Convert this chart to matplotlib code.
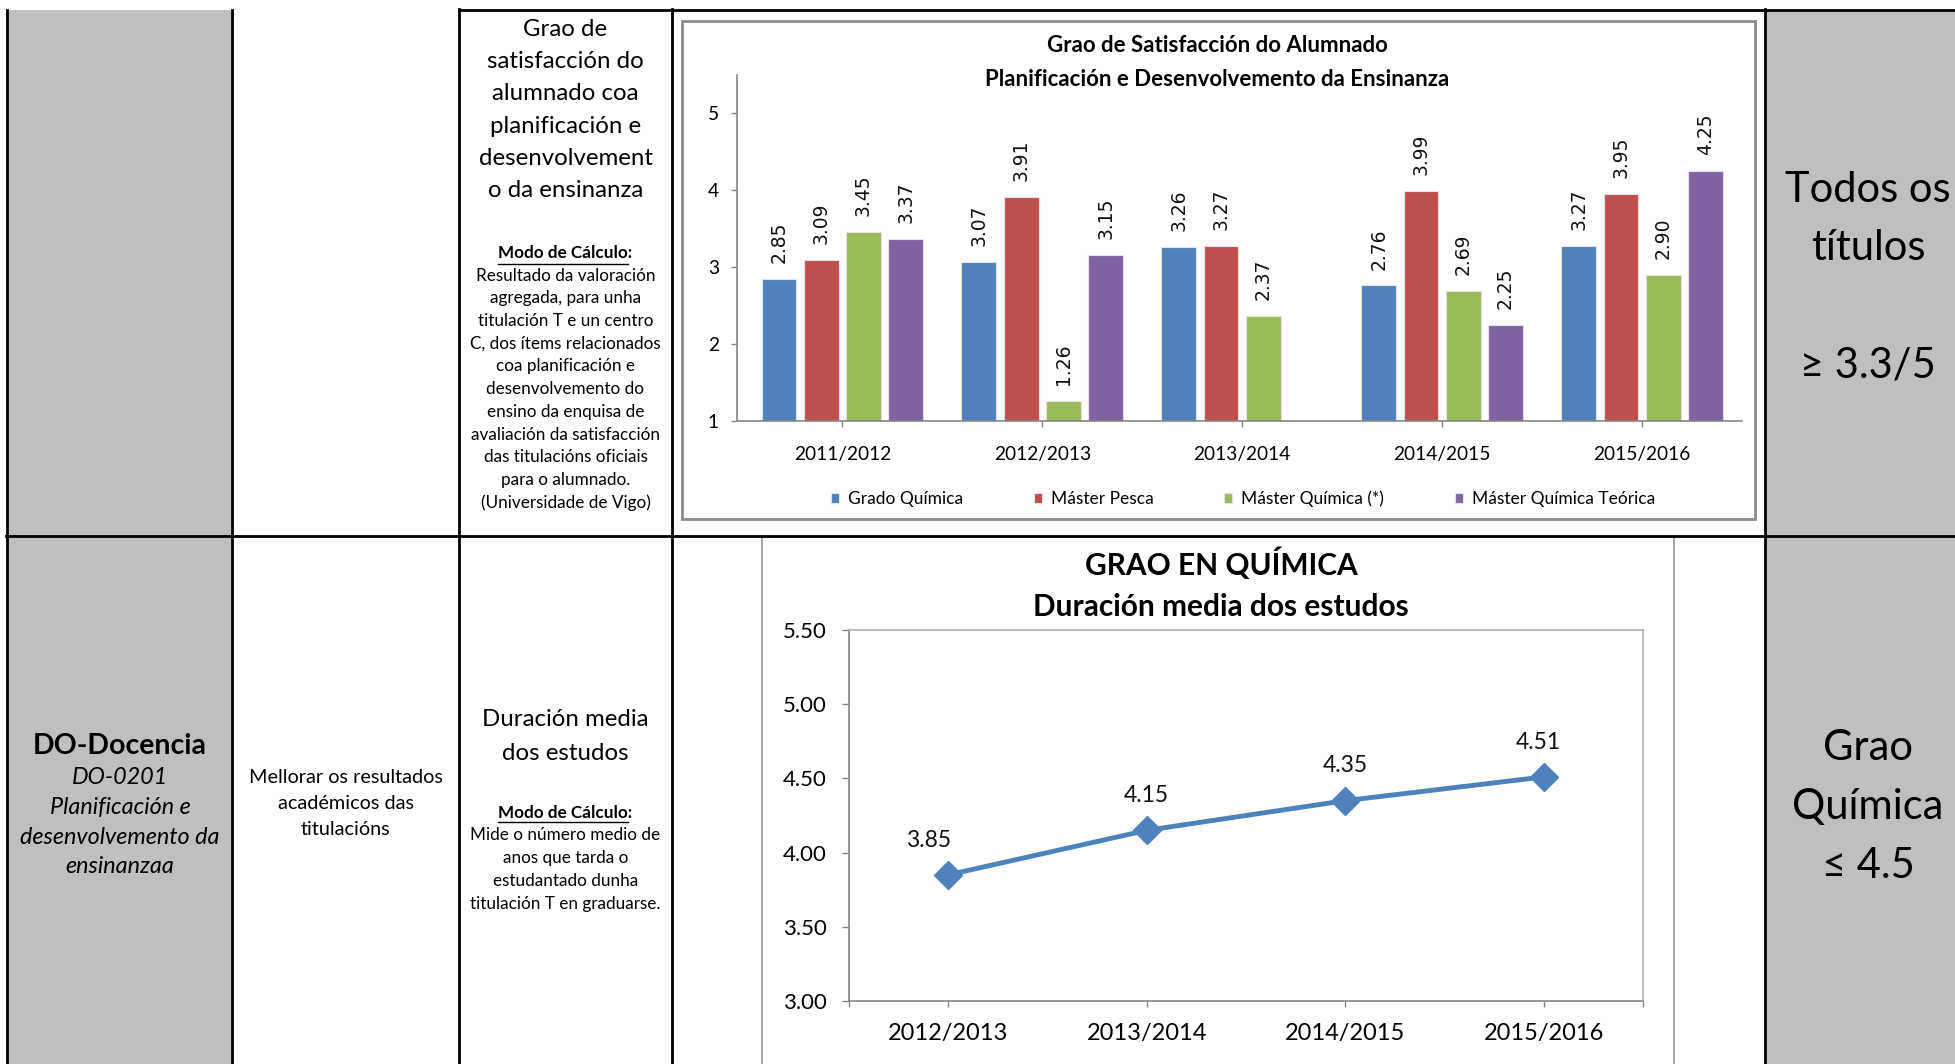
import numpy as np
import matplotlib
matplotlib.use('Agg')
import matplotlib.pyplot as plt
from matplotlib.patches import Rectangle
from matplotlib.lines import Line2D

# ---------------- data ----------------
bar_years = ['2011/2012', '2012/2013', '2013/2014', '2014/2015', '2015/2016']
grado_quimica = [2.85, 3.07, 3.26, 2.76, 3.27]
master_pesca = [3.09, 3.91, 3.27, 3.99, 3.95]
master_quimica = [3.45, 1.26, 2.37, 2.69, 2.90]
master_quimica_teorica = [3.37, 3.15, np.nan, 2.25, 4.25]
series_names = ['Grado Química', 'Máster Pesca', 'Máster Química (*)', 'Máster Química Teórica']
series_colors = ['#4F81BD', '#C0504D', '#9BBB59', '#8064A2']
bar_yticks = [1, 2, 3, 4, 5]
bar_title = ['Grao de Satisfacción do Alumnado', 'Planificación e Desenvolvemento da Ensinanza']

line_years = ['2012/2013', '2013/2014', '2014/2015', '2015/2016']
duracion_media = [3.85, 4.15, 4.35, 4.51]
line_yticks = [3.00, 3.50, 4.00, 4.50, 5.00, 5.50]
line_title = ['GRAO EN QUÍMICA', 'Duración media dos estudos']

r1_indicator = ['Grao de', 'satisfacción do', 'alumnado coa', 'planificación e',
                'desenvolvement', 'o da ensinanza']
r1_calc = ['Resultado da valoración', 'agregada, para unha', 'titulación T e un centro',
           'C, dos ítems relacionados', 'coa planificación e', 'desenvolvemento do',
           'ensino da enquisa de', 'avaliación da satisfacción', 'das titulacións oficiais',
           'para o alumnado.', '(Universidade de Vigo)']
r1_target = ['Todos os', 'títulos', '', '≥ 3.3/5']
r2_area_bold = 'DO-Docencia'
r2_area_italic = ['DO-0201', 'Planificación e', 'desenvolvemento da', 'ensinanzaa']
r2_objective = ['Mellorar os resultados', 'académicos das', 'titulacións']
r2_indicator = ['Duración media', 'dos estudos']
r2_calc = ['Mide o número medio de', 'anos que tarda o', 'estudantado dunha',
           'titulación T en graduarse.']
r2_target = ['Grao', 'Química', '≤ 4.5']
calc_heading = 'Modo de Cálculo'

# ---------------- figure ----------------
W, H = 1955, 1064
plt.rcParams['font.family'] = ['Lato', 'DejaVu Sans']
fig = plt.figure(figsize=(W / 100, H / 100), dpi=100)
fig.patch.set_facecolor('white')


def fx(x):
    return x / W


def fy(y):
    return 1 - y / H


def rect(x0, y0, x1, y1, **kw):
    r = Rectangle((fx(x0), fy(y1)), fx(x1) - fx(x0), fy(y0) - fy(y1),
                  transform=fig.transFigure, **kw)
    fig.add_artist(r)
    return r


def hline(x0, x1, y, **kw):
    fig.add_artist(Line2D([fx(x0), fx(x1)], [fy(y), fy(y)], transform=fig.transFigure, **kw))


def vline(x, y0, y1, **kw):
    fig.add_artist(Line2D([fx(x), fx(x)], [fy(y0), fy(y1)], transform=fig.transFigure, **kw))


def ftext(x, y, s, size, weight='normal', style='normal', ha='center', va='center_baseline'):
    return fig.text(fx(x), fy(y), s, fontsize=size, fontweight=weight, fontstyle=style,
                    ha=ha, va=va, family=['Lato', 'DejaVu Sans'], zorder=4, color='black')


GRAY = '#bfbfbf'
# gray cells
rect(7, 10, 232, H + 5, facecolor=GRAY, edgecolor='none', zorder=-3)
rect(1765, 10, W + 5, H + 5, facecolor=GRAY, edgecolor='none', zorder=-3)

# chart boxes
rect(682, 21, 1755, 519, facecolor='white', edgecolor='#8c8c8c', lw=2.0, zorder=-2)
rect(762, 537, 1674, H + 10, facecolor='white', edgecolor='#a6a6a6', lw=1.5, zorder=-2)

# table grid
LW = 2.0
for xv in [7, 232]:
    vline(xv, 10, H + 5, color='black', lw=LW, zorder=6)
for xv in [459, 672, 1765]:
    vline(xv, 9, H + 5, color='black', lw=LW, zorder=6)
hline(459, W + 5, 10, color='black', lw=LW, zorder=6)
hline(6, W + 5, 536, color='black', lw=LW, zorder=6)

# ---------------- bar chart ----------------
axb = fig.add_axes([fx(737), fy(421), fx(1742) - fx(737), fy(74.5) - fy(421)])
axb.set_facecolor('none')
xb = np.arange(len(bar_years))
slot, bw = 0.2114, 0.174
all_series = [grado_quimica, master_pesca, master_quimica, master_quimica_teorica]
handles = []
for i, (vals, col, name) in enumerate(zip(all_series, series_colors, series_names)):
    pos = xb + (i - 1.5) * slot
    bars = axb.bar(pos, vals, width=bw, color=col, edgecolor='#e4e4e4', lw=0.8,
                   zorder=2, label=name)
    handles.append(bars)
    for p, v in zip(pos, vals):
        if np.isnan(v):
            continue
        axb.annotate(f'{v:.2f}', (p, v), xytext=(0, 11.5), textcoords='offset points',
                     rotation=90, ha='center', va='bottom', fontsize=13.5,
                     family='DejaVu Sans', color='#111111')
axb.set_xlim(-0.527, 4.5)
axb.set_ylim(1, 5.5)
axb.set_yticks(bar_yticks)
axb.set_yticklabels([str(t) for t in bar_yticks])
axb.set_xticks(xb)
axb.set_xticklabels(bar_years)
for s in ['top', 'right']:
    axb.spines[s].set_visible(False)
for s in ['left', 'bottom']:
    axb.spines[s].set_color('#868686')
    axb.spines[s].set_linewidth(1.2)
axb.tick_params(axis='x', length=4, width=1, color='#868686', pad=14, labelsize=13.8)
axb.tick_params(axis='y', length=4, width=1, color='#868686', pad=9, labelsize=13.8)

ftext(1217, 45, bar_title[0], 16, weight='bold', va='center')
ftext(1217, 79, bar_title[1], 16, weight='bold', va='center')

leg = axb.legend(handles=handles, labels=series_names, ncol=4, loc='center',
                 bbox_to_anchor=(fx(1243), fy(499)), bbox_transform=fig.transFigure,
                 frameon=False, handlelength=0.46, handleheight=0.46, handletextpad=0.5,
                 columnspacing=4.1, prop={'family': ['Lato', 'DejaVu Sans'], 'size': 12.5})

# ---------------- line chart ----------------
axl = fig.add_axes([fx(849), fy(1001), fx(1643) - fx(849), fy(630) - fy(1001)])
axl.set_facecolor('white')
xl = np.arange(len(line_years))
axl.plot(xl, duracion_media, color='#4F81BD', lw=3.5, marker='D', ms=14,
         markeredgecolor='#4F81BD', zorder=3)
label_dx = [-14, 0, 0, -4]
for xi, v, dx in zip(xl, duracion_media, label_dx):
    axl.annotate(f'{v:.2f}', (xi, v), xytext=(dx, 25), textcoords='offset points',
                 ha='center', va='center', fontsize=16.5, color='#111111')
axl.set_xlim(-0.5, 3.5)
axl.set_ylim(3.0, 5.5)
axl.set_yticks(line_yticks)
axl.set_yticklabels([f'{t:.2f}' for t in line_yticks])
axl.set_xticks(xl)
axl.set_xticklabels(line_years)
axl.set_xticks([-0.5, 3.5], minor=True)
for s in ['left', 'bottom']:
    axl.spines[s].set_color('#868686')
    axl.spines[s].set_linewidth(1.2)
for s in ['top', 'right']:
    axl.spines[s].set_color('#b0b0b0')
    axl.spines[s].set_linewidth(1.2)
axl.tick_params(axis='x', which='both', length=4.5, width=1, color='#868686', pad=11, labelsize=17)
axl.tick_params(axis='y', length=5, width=1, color='#868686', pad=11, labelsize=16)

ftext(1221, 564, line_title[0], 21.5, weight='bold', va='center')
ftext(1221, 607, line_title[1], 21.5, weight='bold', va='center')

# ---------------- table texts ----------------
C3 = 565.5
for i, s in enumerate(r1_indicator):
    ftext(C3, 27 + i * 32.4, s, 17.3)
modo1 = ftext(C3, 252, calc_heading + ':', 12.3, weight='bold')
for i, s in enumerate(r1_calc):
    ftext(C3, 274 + i * 22.75, s, 12.3)

for i, s in enumerate(r1_target):
    if s:
        ftext(1868, 186 + i * 58.6, s, 30)

ftext(120, 744, r2_area_bold, 20.5, weight='bold')
for i, s in enumerate(r2_area_italic):
    ftext(120, 776 + i * 29.5, s, 16.8, style='italic')

for i, s in enumerate(r2_objective):
    ftext(345.5, 776 + i * 26, s, 14.3)

for i, s in enumerate(r2_indicator):
    ftext(C3, 718 + i * 33, s, 17.3)
modo2 = ftext(C3, 811, calc_heading + ':', 12.3, weight='bold')
for i, s in enumerate(r2_calc):
    ftext(C3, 834 + i * 22.75, s, 12.3)

for i, s in enumerate(r2_target):
    ftext(1868, 745 + i * 58.6, s, 30)

# underline "Modo de Cálculo" (not the colon)
fig.canvas.draw()
renderer = fig.canvas.get_renderer()
for t in [modo1, modo2]:
    bb = t.get_window_extent(renderer)
    colon = fig.text(0, 0, ':', fontsize=12.3, fontweight='bold', family=['Lato', 'DejaVu Sans'])
    cw = colon.get_window_extent(renderer).width
    colon.remove()
    _, _, d = renderer.get_text_width_height_descent(t.get_text(), t.get_fontproperties(), ismath=False)
    ybase = bb.y0 + d - 2
    fig.add_artist(Line2D([bb.x0 / W, (bb.x1 - cw) / W], [ybase / H, ybase / H],
                          transform=fig.transFigure, color='black', lw=1.0, zorder=5))

fig.savefig('out.png', dpi=100)
